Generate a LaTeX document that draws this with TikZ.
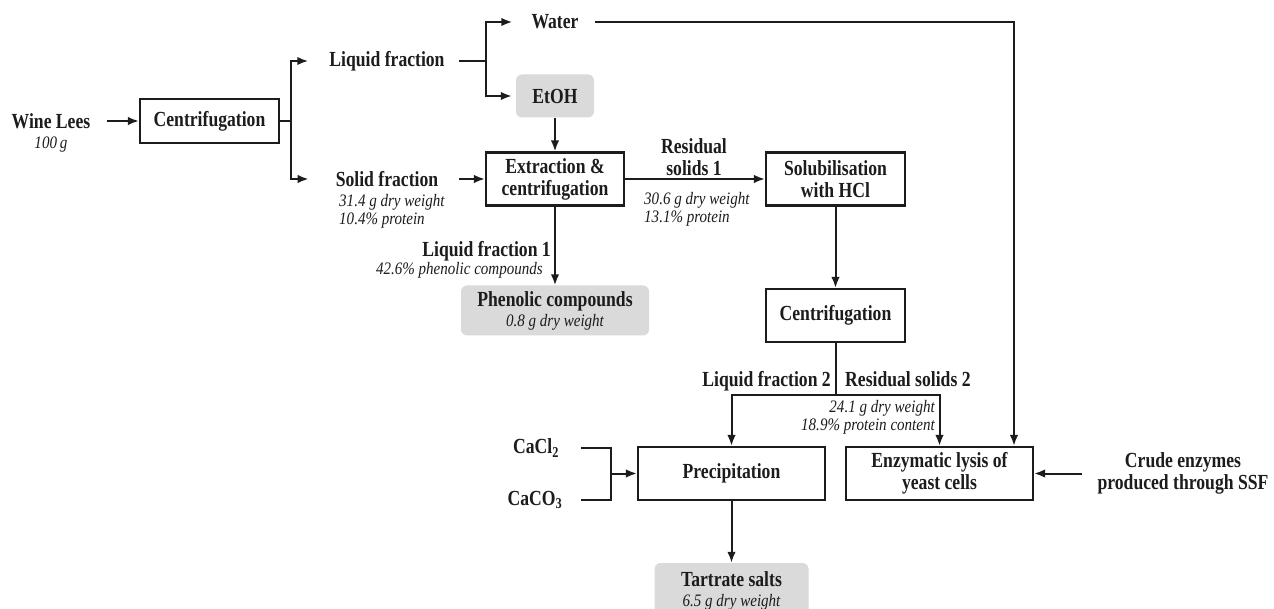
\documentclass[tikz,border=0pt]{standalone}
\usepackage{fontspec}
\setmainfont{Liberation Serif}[BoldFeatures={FakeStretch=0.82}, ItalicFeatures={FakeStretch=0.86}]
\usetikzlibrary{arrows.meta}
\definecolor{ink}{RGB}{28,28,28}
\definecolor{shade}{RGB}{218,218,218}
\begin{document}
\begin{tikzpicture}[x=1pt,y=-1pt,
  bf/.style={font=\fontsize{21.5}{22}\selectfont\bfseries, text=ink, inner sep=0pt, align=center},
  it/.style={font=\fontsize{17.5}{18}\selectfont\itshape, text=ink, inner sep=0pt},
  proc/.style={bf, draw=ink, line width=2.2pt, minimum height=53pt},
  prod/.style={bf, font=\fontsize{21.5}{20}\selectfont\bfseries, fill=shade, rounded corners=6pt},
  conn/.style={draw=ink, line width=2pt},
  arr/.style={conn, -{Latex[length=11pt,width=8.5pt]}},
]
\clip (0,0) rectangle (1274,609);
\fill[white] (0,0) rectangle (1274,609);

% nodes
\node[bf] (wl) at (51,121) {Wine Lees};
\node[it] (wlq) at (51,145) {100\,g};
\node[proc, minimum width=139pt, minimum height=44pt] (c1) at (209.5,121) {Centrifugation};
\node[bf] (lf) at (387,61) {Liquid fraction};
\node[bf] (sf) at (387,179) {Solid fraction};
\node[it, align=left, anchor=west] (sfq) at (339,211) {31.4 g dry weight\\10.4\% protein};
\node[bf] (wa) at (555,22) {Water};
\node[prod, minimum width=78pt, minimum height=43pt] (etoh) at (555,96) {EtOH};
\node[proc, minimum width=138pt] (ext) at (555,179) {Extraction \&\\centrifugation};
\node[bf] (rs1) at (694,157) {Residual\\solids 1};
\node[it, align=left, anchor=west] (rs1q) at (644,209) {30.6 g dry weight\\13.1\% protein};
\node[proc, minimum width=139pt] (sol) at (835.5,179) {Solubilisation\\with HCl};
\node[bf, anchor=base east] (lf1) at (551,257) {Liquid fraction 1};
\node[it, anchor=base east] (lf1q) at (543,275) {42.6\% phenolic compounds};
\node[prod, minimum width=188pt, minimum height=50pt] (ph) at (555,310.5) {Phenolic compounds\\{\fontsize{17.5}{20}\selectfont\mdseries\itshape 0.8 g dry weight}};
\node[proc, minimum width=139pt] (c2) at (835.5,315.5) {Centrifugation};
\node[bf, anchor=base east] (lf2) at (831,387) {Liquid fraction 2};
\node[bf, anchor=base west] (rs2) at (845,387) {Residual solids 2};
\node[it, align=right, anchor=east] (rs2q) at (935,417) {24.1 g dry weight\\18.9\% protein content};
\node[proc, minimum width=187pt] (prec) at (731.5,473.5) {Precipitation};
\node[proc, minimum width=187pt] (enz) at (939.5,473.5) {Enzymatic lysis of\\yeast cells};
\node[bf] (crude) at (1183,473.5) {Crude enzymes\\produced through SSF};
\node[bf] (cacl) at (536,448) {CaCl\textsubscript{2}};
\node[bf] (caco) at (535,500) {CaCO\textsubscript{3}};
\node[prod, minimum width=154pt, minimum height=56pt] (tart) at (731.5,591) {Tartrate salts\\{\fontsize{17.5}{19}\selectfont\mdseries\itshape 6.5 g dry weight}};
\coordinate (brk) at (611,473.5);

% connectors
\draw[arr, shorten <=17pt] (wl.east) -- (c1.west);
\draw[arr, shorten >=21pt] (c1.east) -- ++(10.5,0) |- (lf.west);
\draw[arr, shorten >=27pt] (c1.east) -- ++(10.5,0) |- (sf.west);
\draw[arr, shorten <=14pt, shorten >=19pt] (lf.east) -- ++(41,0) |- (wa.west);
\draw[arr, shorten <=14pt, shorten >=4pt] (lf.east) -- ++(41,0) |- (etoh.west);
\draw[arr] (etoh) -- (ext);
\draw[arr, shorten <=21pt] (sf.east) -- (ext.west);
\draw[arr] (ext) -- (sol);
\draw[arr] (ext) -- (ph);
\draw[arr] (sol) -- (c2);
\draw[conn] (c2.south) -- ++(0,52) coordinate (split);
\draw[arr] (split) -| (prec.north);
\draw[arr] (split) -| (enz.north);
\draw[arr, shorten <=16pt] (wa.east) -| ([xshift=74.5pt]enz.north);
\draw[arr, shorten <=15pt] (crude.west) -- (enz.east);
\draw[conn, shorten <=22pt] (cacl.east) -| (brk);
\draw[conn, shorten <=18pt] (caco.east) -| (brk);
\draw[arr] (brk) -- (prec.west);
\draw[arr] (prec) -- (tart);
\end{tikzpicture}
\end{document}
